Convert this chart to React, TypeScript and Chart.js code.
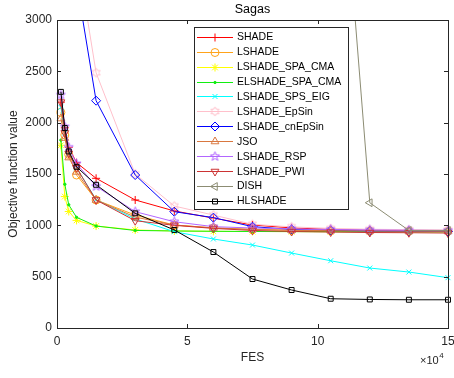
import React, { useEffect, useRef } from 'react';
import { Chart, registerables } from 'chart.js';
import { drawPoint } from 'chart.js/helpers';

Chart.register(...registerables);

const FES = [1500, 3000, 4500, 7500, 15000, 30000, 45000, 60000, 75000, 90000, 105000, 120000, 135000, 150000];

const SHADE = [2200, 1950, 1760, 1610, 1458, 1247, 1140, 1070, 1003, 975, 960, 952, 948, 945];
const LSHADE = [2100, 1880, 1690, 1490, 1247, 1100, 1003, 975, 960, 952, 948, 945, 943, 942];
const LSHADE_SPA_CMA = [1780, 1280, 1135, 1048, 993, 955, 945, 942, 940, 939, 938, 937, 937, 936];
const ELSHADE_SPA_CMA = [1830, 1400, 1200, 1078, 993, 950, 945, 942, 940, 939, 938, 937, 937, 936];
const LSHADE_SPS_EIG = [2150, 1900, 1700, 1560, 1250, 1062, 938, 867, 808, 730, 655, 584, 545, 490];
const LSHADE_EpSin = [6500, 5500, 4800, 3670, 2486, 1500, 1188, 1100, 1010, 985, 970, 962, 958, 955];
const LSHADE_cnEpSin = [6000, 5000, 4300, 3370, 2214, 1490, 1133, 1075, 987, 960, 950, 945, 942, 940];
const JSO = [2040, 1850, 1660, 1520, 1247, 1080, 1003, 975, 960, 952, 948, 945, 943, 942];
const LSHADE_RSP = [2270, 1960, 1760, 1600, 1380, 1133, 1035, 987, 974, 965, 960, 955, 952, 950];
const LSHADE_PWI = [2200, 1900, 1700, 1560, 1247, 1045, 1000, 970, 950, 940, 935, 930, 928, 925];
const DISH = [20000, 18000, 16000, 15000, 13000, 11000, 9500, 8500, 7500, 6800, 6000, 1220, 950, 950];
const HLSHADE = [2300, 1948, 1720, 1570, 1395, 1117, 955, 740, 477, 370, 285, 278, 275, 275];

const NAMES = ['SHADE', 'LSHADE', 'LSHADE_SPA_CMA', 'ELSHADE_SPA_CMA', 'LSHADE_SPS_EIG', 'LSHADE_EpSin', 'LSHADE_cnEpSin', 'JSO', 'LSHADE_RSP', 'LSHADE_PWI', 'DISH', 'HLSHADE'];
const VALUES = [SHADE, LSHADE, LSHADE_SPA_CMA, ELSHADE_SPA_CMA, LSHADE_SPS_EIG, LSHADE_EpSin, LSHADE_cnEpSin, JSO, LSHADE_RSP, LSHADE_PWI, DISH, HLSHADE];
const COLORS = ['#FF0000', '#FFA31A', '#FFFF00', '#11EE11', '#00FFFF', '#FFC0CB', '#0000FF', '#D9773F', '#B266FF', '#CC3333', '#8C8C73', '#000000'];

const Y_TICKS = [0, 500, 1000, 1500, 2000, 2500, 3000];
const X_TICKS = [0, 50000, 100000, 150000];

const FONT = '"Liberation Sans", Arial, sans-serif';
const AXIS_COLOR = '#262626';

function makeStar(n: number, color: string, rOut: number, rIn: number) {
  const c = document.createElement('canvas');
  const s = Math.ceil(rOut * 2 + 3);
  c.width = s;
  c.height = s;
  const ctx = c.getContext('2d')!;
  ctx.strokeStyle = color;
  ctx.lineWidth = 1;
  ctx.beginPath();
  for (let i = 0; i < n * 2; i++) {
    const r = i % 2 === 0 ? rOut : rIn;
    const a = -Math.PI / 2 + (i * Math.PI) / n;
    const x = s / 2 + r * Math.cos(a);
    const y = s / 2 + r * Math.sin(a);
    if (i === 0) ctx.moveTo(x, y);
    else ctx.lineTo(x, y);
  }
  ctx.closePath();
  ctx.stroke();
  return c;
}

export default function App() {
  const ref = useRef<HTMLCanvasElement>(null);

  useEffect(() => {
    const canvas = ref.current!;
    const pent = makeStar(5, COLORS[8], 4.8, 2.0);
    const hex = makeStar(6, COLORS[5], 4.6, 2.6);

    const styles: any[] = [
      { pointStyle: 'cross', radius: 4, rotation: 0, fill: false },
      { pointStyle: 'circle', radius: 4, rotation: 0, fill: false },
      { pointStyle: 'star', radius: 4, rotation: 0, fill: false },
      { pointStyle: 'circle', radius: 1.2, rotation: 0, fill: true },
      { pointStyle: 'crossRot', radius: 3.5, rotation: 0, fill: false },
      { pointStyle: hex, radius: 4, rotation: 0, fill: false },
      { pointStyle: 'rectRot', radius: 4.5, rotation: 0, fill: false },
      { pointStyle: 'triangle', radius: 4.5, rotation: 0, fill: false },
      { pointStyle: pent, radius: 4, rotation: 0, fill: false },
      { pointStyle: 'triangle', radius: 4.5, rotation: 180, fill: false },
      { pointStyle: 'triangle', radius: 4.5, rotation: 270, fill: false },
      { pointStyle: 'rect', radius: 3.5, rotation: 0, fill: false },
    ];

    const datasets = NAMES.map((name, i) => ({
      label: name,
      data: VALUES[i].map((v, j) => ({ x: FES[j], y: v })),
      borderColor: COLORS[i],
      backgroundColor: COLORS[i],
      borderWidth: 1,
      pointStyle: styles[i].pointStyle,
      pointRadius: styles[i].radius,
      pointRotation: styles[i].rotation,
      pointBorderColor: COLORS[i],
      pointBackgroundColor: styles[i].fill ? COLORS[i] : 'rgba(0,0,0,0)',
      pointBorderWidth: 1,
      tension: 0,
      fill: false,
      order: NAMES.length - i,
      clip: { left: 6, right: 6, top: 0, bottom: 6 },
    }));

    const deco = {
      id: 'deco',
      afterDraw(chart: any) {
        const ctx = chart.ctx as CanvasRenderingContext2D;
        const a = chart.chartArea;
        const xs = chart.scales.x;
        const ys = chart.scales.y;
        ctx.save();
        ctx.strokeStyle = AXIS_COLOR;
        ctx.lineWidth = 1;
        ctx.strokeRect(Math.round(a.left) + 0.5, Math.round(a.top) + 0.5, Math.round(a.right - a.left), Math.round(a.bottom - a.top));
        ctx.beginPath();
        Y_TICKS.forEach((v) => {
          const y = Math.round(ys.getPixelForValue(v)) + 0.5;
          ctx.moveTo(a.left, y);
          ctx.lineTo(a.left + 4, y);
          ctx.moveTo(a.right, y);
          ctx.lineTo(a.right - 4, y);
        });
        X_TICKS.forEach((v) => {
          const x = Math.round(xs.getPixelForValue(v)) + 0.5;
          ctx.moveTo(x, a.bottom);
          ctx.lineTo(x, a.bottom - 4);
          ctx.moveTo(x, a.top);
          ctx.lineTo(x, a.top + 4);
        });
        ctx.stroke();

        ctx.fillStyle = '#000000';
        ctx.font = '12.5px ' + FONT;
        ctx.textAlign = 'center';
        ctx.textBaseline = 'middle';
        ctx.fillText('Sagas', (a.left + a.right) / 2, 10);

        ctx.fillStyle = AXIS_COLOR;
        ctx.font = '12px ' + FONT;
        ctx.fillText('FES', (a.left + a.right) / 2, 358);
        ctx.save();
        ctx.translate(14, (a.top + a.bottom) / 2);
        ctx.rotate(-Math.PI / 2);
        ctx.fillText('Objective function value', 0, 0);
        ctx.restore();

        ctx.textAlign = 'left';
        ctx.textBaseline = 'alphabetic';
        ctx.font = '11px ' + FONT;
        const base = '\u00d710';
        const w = ctx.measureText(base).width;
        ctx.fillText(base, 420, 364);
        ctx.font = '8px ' + FONT;
        ctx.fillText('4', 420 + w + 0.5, 358);

        const bx = 194.5, by = 27.5, bw = 154, bh = 182;
        ctx.fillStyle = '#FFFFFF';
        ctx.fillRect(bx, by, bw, bh);
        ctx.strokeStyle = AXIS_COLOR;
        ctx.strokeRect(bx, by, bw, bh);
        ctx.save();
        ctx.beginPath();
        ctx.rect(bx + 0.5, by + 0.5, bw - 1, bh - 1);
        ctx.clip();
        NAMES.forEach((name, i) => {
          const y = 36.7 + i * 14.94;
          ctx.strokeStyle = COLORS[i];
          ctx.lineWidth = 1;
          ctx.beginPath();
          ctx.moveTo(197, Math.round(y) + 0.5);
          ctx.lineTo(233, Math.round(y) + 0.5);
          ctx.stroke();
          ctx.fillStyle = styles[i].fill ? COLORS[i] : 'rgba(0,0,0,0)';
          drawPoint(ctx, { pointStyle: styles[i].pointStyle, rotation: styles[i].rotation, radius: styles[i].radius, borderWidth: 1 } as any, 215, Math.round(y) + 0.5);
          ctx.fillStyle = '#000000';
          ctx.font = '10.5px ' + FONT;
          ctx.textAlign = 'left';
          ctx.textBaseline = 'middle';
          ctx.fillText(name, 237, y + 0.5);
        });
        ctx.restore();
        ctx.restore();
      },
    };

    const chart = new Chart(canvas, {
      type: 'line',
      data: { datasets: datasets as any },
      options: {
        animation: false,
        responsive: false,
        maintainAspectRatio: false,
        layout: { padding: { top: 20, right: 6, left: 0, bottom: 0 } },
        plugins: { legend: { display: false }, title: { display: false }, tooltip: { enabled: false } },
        scales: {
          x: {
            type: 'linear',
            min: 0,
            max: 150000,
            afterFit: (s: any) => { s.height = 50; s.paddingLeft = 0; s.paddingRight = 0; },
            afterBuildTicks: (s: any) => { s.ticks = X_TICKS.map((v) => ({ value: v })); },
            ticks: {
              callback: (v: any) => String(Number(v) / 10000),
              color: AXIS_COLOR,
              font: { size: 12, family: FONT },
              padding: 6,
              maxRotation: 0,
              autoSkip: false,
            },
            grid: { display: false, drawTicks: false },
            border: { display: false },
          },
          y: {
            type: 'linear',
            min: 0,
            max: 3000,
            afterFit: (s: any) => { s.width = 57; s.paddingTop = 0; s.paddingBottom = 0; },
            afterBuildTicks: (s: any) => { s.ticks = Y_TICKS.map((v) => ({ value: v })); },
            ticks: {
              callback: (v: any) => String(v),
              color: AXIS_COLOR,
              font: { size: 12, family: FONT },
              padding: 5,
              autoSkip: false,
            },
            grid: { display: false, drawTicks: false },
            border: { display: false },
          },
        },
      },
      plugins: [deco],
    });
    return () => chart.destroy();
  }, []);

  return (
    <div style={{ position: 'fixed', left: 0, top: 0, width: 454, height: 378, background: '#fff' }}>
      <canvas ref={ref} width={454} height={378} style={{ width: 454, height: 378, display: 'block' }} />
    </div>
  );
}
